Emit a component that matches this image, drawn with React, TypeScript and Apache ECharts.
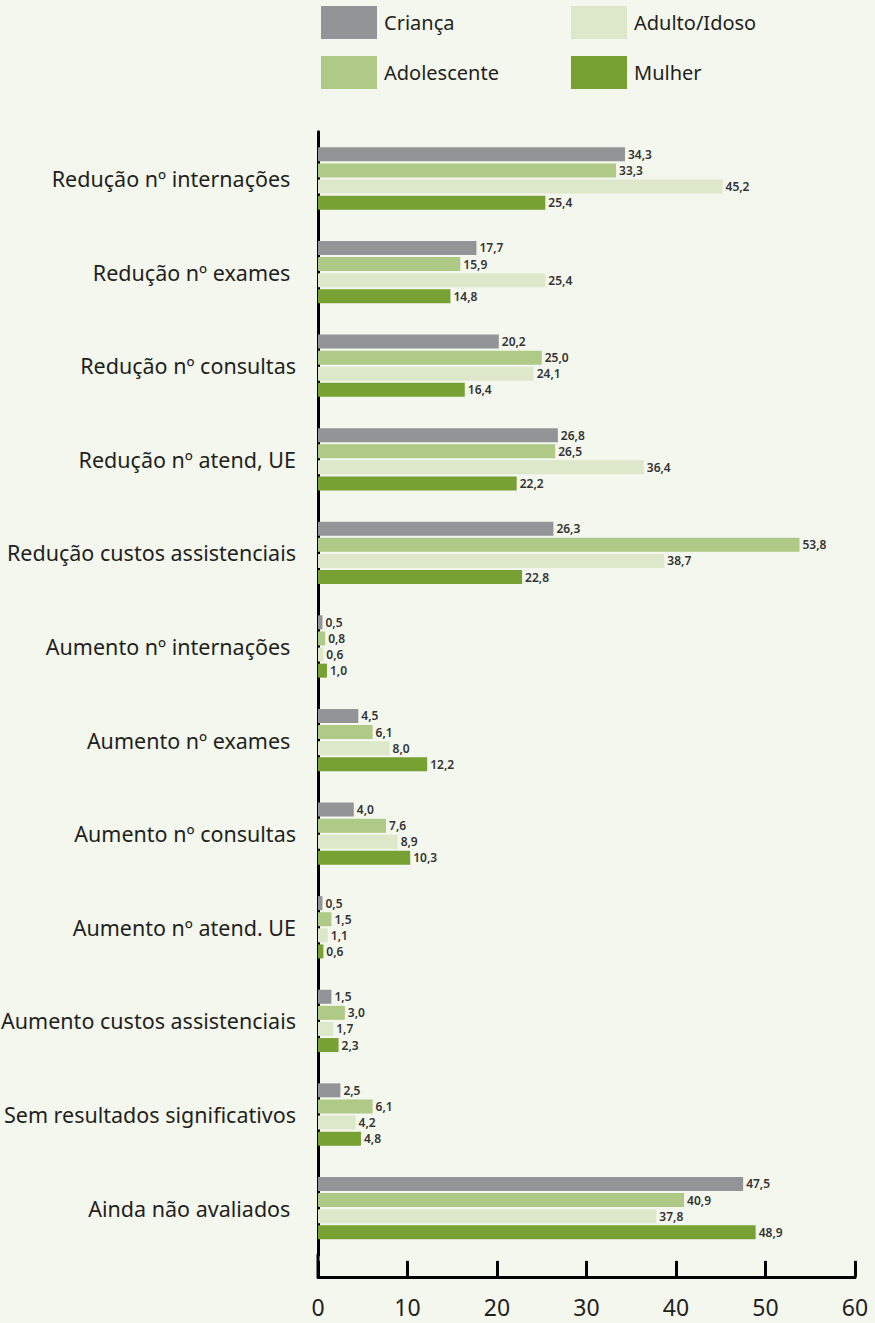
import React, { useEffect, useRef } from "react";
import * as echarts from "echarts";

const categories = [
  "Redução nº internações\u00a0",
  "Redução nº exames\u00a0",
  "Redução nº consultas",
  "Redução nº atend, UE",
  "Redução custos assistenciais",
  "Aumento nº internações\u00a0",
  "Aumento nº exames\u00a0",
  "Aumento nº consultas",
  "Aumento nº atend. UE",
  "Aumento custos assistenciais",
  "Sem resultados significativos",
  "Ainda não avaliados\u00a0",
];

const seriesNames = ["Criança", "Adolescente", "Adulto/Idoso", "Mulher"];
const crianca = [34.3, 17.7, 20.2, 26.8, 26.3, 0.5, 4.5, 4.0, 0.5, 1.5, 2.5, 47.5];
const adolescente = [33.3, 15.9, 25.0, 26.5, 53.8, 0.8, 6.1, 7.6, 1.5, 3.0, 6.1, 40.9];
const adulto = [45.2, 25.4, 24.1, 36.4, 38.7, 0.6, 8.0, 8.9, 1.1, 1.7, 4.2, 37.8];
const mulher = [25.4, 14.8, 16.4, 22.2, 22.8, 1.0, 12.2, 10.3, 0.6, 2.3, 4.8, 48.9];
const xTicks = [0, 10, 20, 30, 40, 50, 60];

const colors = ["#939497", "#afc986", "#dde8ca", "#77a132"];
const FONT = "'Noto Sans', sans-serif";
const TEXT = "#231f20";

export default function App() {
  const ref = useRef<HTMLDivElement>(null);
  useEffect(() => {
    document.body.style.margin = "0";
    if (!ref.current) return;
    const chart = echarts.init(ref.current, null, { renderer: "svg" });
    const H = 1323;
    const gridLeft = 318;
    const gridTop = 131.7;
    const band = 93.6;
    const gridHeight = band * categories.length;
    const gridBottom = H - gridTop - gridHeight;
    const xOffset = 22;
    const values = [crianca, adolescente, adulto, mulher];
    const legendCommon = {
      orient: "vertical",
      top: 1,
      itemWidth: 56,
      itemHeight: 33,
      itemGap: 17,
      icon: "rect",
      textStyle: { fontSize: 20, color: TEXT, fontFamily: FONT, padding: [0, 0, 0, 2] },
    };
    chart.setOption({
      animation: false,
      backgroundColor: "#f4f7ee",
      textStyle: { fontFamily: FONT },
      legend: [
        { ...legendCommon, left: 316, data: [seriesNames[0], seriesNames[1]] },
        { ...legendCommon, left: 566, data: [seriesNames[2], seriesNames[3]] },
      ],
      grid: {
        left: gridLeft,
        right: 20,
        top: gridTop,
        bottom: gridBottom,
        containLabel: false,
        outerBoundsMode: "none",
      },
      xAxis: {
        type: "value",
        min: 0,
        max: 60,
        interval: 10,
        offset: xOffset,
        axisLine: { show: true, lineStyle: { color: "#000", width: 3 } },
        axisTick: { show: true, inside: true, length: 16, lineStyle: { color: "#000", width: 3 } },
        splitLine: { show: false },
        axisLabel: {
          fontSize: 23,
          color: TEXT,
          fontFamily: FONT,
          margin: 19,
          hideOverlap: false,
          formatter: (v: number) => (xTicks.includes(v) ? String(v) : ""),
        },
      },
      yAxis: {
        type: "category",
        inverse: true,
        data: categories,
        axisLine: { show: true, lineStyle: { color: "#000", width: 3 } },
        axisTick: { show: false },
        axisLabel: { fontSize: 21.5, color: TEXT, fontFamily: FONT, margin: 22, interval: 0 },
      },
      graphic: [
        {
          type: "line",
          shape: { x1: gridLeft, y1: H - gridBottom - 1, x2: gridLeft, y2: H - gridBottom + xOffset },
          style: { stroke: "#000", lineWidth: 3 },
          silent: true,
        },
      ],
      series: seriesNames.map((name, i) => ({
        name,
        type: "bar",
        data: values[i],
        barWidth: 14,
        barGap: "15%",
        itemStyle: { color: colors[i] },
        label: {
          show: true,
          position: "right",
          distance: 3,
          fontSize: 12,
          fontWeight: 600,
          color: "#333",
          fontFamily: FONT,
          formatter: (p: any) => Number(p.value).toFixed(1).replace(".", ","),
        },
      })),
    });
    return () => chart.dispose();
  }, []);
  return <div ref={ref} style={{ width: 875, height: 1323 }} />;
}
